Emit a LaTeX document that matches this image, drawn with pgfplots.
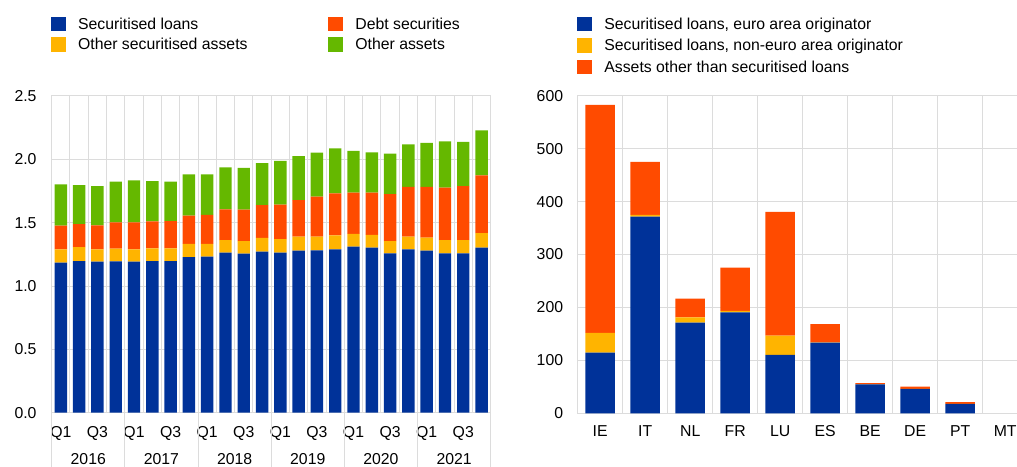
\documentclass[border=0pt]{standalone}
\usepackage{fontspec}
\setmainfont{Liberation Sans}
\usepackage{pgfplots}
\usepackage{pgfplotstable}
\pgfplotsset{compat=1.18}
\definecolor{ecbblue}{HTML}{003299}
\definecolor{ecbyellow}{HTML}{FFB400}
\definecolor{ecborange}{HTML}{FF4B00}
\definecolor{ecbgreen}{HTML}{65B800}
\definecolor{gridgray}{HTML}{DCDCDC}
\newcommand\fs{\fontsize{15.8}{18}\selectfont}

\pgfplotstableread{
x sl osa ds oa
1 1.184 0.105 0.187 0.327
2 1.197 0.111 0.181 0.308
3 1.192 0.097 0.190 0.310
4 1.195 0.100 0.208 0.321
5 1.192 0.097 0.214 0.331
6 1.197 0.100 0.214 0.318
7 1.197 0.100 0.216 0.311
8 1.229 0.103 0.223 0.327
9 1.232 0.100 0.229 0.321
10 1.263 0.100 0.242 0.332
11 1.255 0.100 0.248 0.329
12 1.272 0.108 0.259 0.332
13 1.263 0.108 0.271 0.345
14 1.279 0.110 0.290 0.347
15 1.282 0.107 0.316 0.348
16 1.289 0.111 0.332 0.355
17 1.311 0.100 0.326 0.329
18 1.303 0.100 0.334 0.318
19 1.258 0.097 0.371 0.319
20 1.289 0.100 0.393 0.336
21 1.279 0.103 0.400 0.347
22 1.258 0.105 0.413 0.366
23 1.258 0.105 0.426 0.348
24 1.303 0.115 0.456 0.355
}\lefttab

\pgfplotstableread{
x el nel oth
0 114.6 37.2 430.7
1 371.5 3.2 100.1
2 171.3 10.1 35.2
3 190.8 2.5 81.9
4 110.2 36.5 233.7
5 133.5 0.5 34.6
6 54.8 0.3 1.9
7 46.0 0.2 4.4
8 17.6 0.2 3.2
9 0.0 0.0 0.0
}\righttab

\pgfplotsset{ecbaxis/.style={
  scale only axis,
  clip=false,
  ybar stacked,
  axis line style={draw=gridgray, line width=1pt},
  grid style={draw=gridgray, line width=1pt},
  tick style={draw=gridgray, line width=1pt},
  major tick length=0pt,
  minor tick length=0pt,
  xtick pos=bottom, ytick pos=left,
  ymajorgrids, xminorgrids, xmajorgrids=false,
  ticklabel style={font=\fs},
  /pgf/number format/assume math mode=true,
  xticklabel style={anchor=north, inner sep=0pt, text height=11.3pt, text depth=0pt},
  legend cell align=left,
  legend style={draw=none, fill=none, inner sep=0pt, outer sep=0pt, font=\fs,
    nodes={inner sep=0pt, text height=11.5pt, text depth=3.5pt},
    /tikz/every odd column/.style={column sep=12.7pt}},
}}

\begin{document}
\begin{tikzpicture}
\useasboundingbox (0,0) rectangle (1017pt,466pt);
\clip (0,0) rectangle (1017pt,466pt);

% ---------- left panel ----------
\begin{axis}[ecbaxis,
  at={(51.7pt,53.3pt)}, anchor=south west,
  width=439pt, height=316.7pt,
  xmin=0.5, xmax=24.5, ymin=0, ymax=2.5,
  bar width=12.4pt,
  xtick={1,3,...,23},
  xticklabels={Q1,Q3,Q1,Q3,Q1,Q3,Q1,Q3,Q1,Q3,Q1,Q3},
  xticklabel style={yshift=-13pt},
  minor xtick={0.5,1.5,...,24.5},
  extra x ticks={0.5,4.5,8.5,12.5,16.5,20.5,24.5},
  extra x tick labels={},
  extra x tick style={tick align=outside, major tick length=54pt},
  ytick={0,0.5,...,2.5},
  yticklabel style={inner xsep=0pt, xshift=-15pt, /pgf/number format/.cd, fixed, fixed zerofill, precision=1, /tikz/.cd},
  legend columns=2,
  legend style={at={(axis description cs:-0.0016,1.2504)}, anchor=north west, row sep=4.6pt,
    /tikz/every even column/.style={column sep=80.7pt}},
]
\addlegendimage{legend image code/.code={\fill[ecbblue] (0pt,-5pt) rectangle (14pt,8.3pt);}}
\addlegendentry{Securitised loans}
\addlegendimage{legend image code/.code={\fill[ecborange] (0pt,-5pt) rectangle (14pt,8.3pt);}}
\addlegendentry{Debt securities}
\addlegendimage{legend image code/.code={\fill[ecbyellow] (0pt,-5pt) rectangle (14pt,8.3pt);}}
\addlegendentry{Other securitised assets}
\addlegendimage{legend image code/.code={\fill[ecbgreen] (0pt,-5pt) rectangle (14pt,8.3pt);}}
\addlegendentry{Other assets}

\addplot[fill=ecbblue, draw=none, forget plot] table[x=x, y=sl] {\lefttab};
\addplot[fill=ecbyellow, draw=none, forget plot] table[x=x, y=osa] {\lefttab};
\addplot[fill=ecborange, draw=none, forget plot] table[x=x, y=ds] {\lefttab};
\addplot[fill=ecbgreen, draw=none, forget plot] table[x=x, y=oa] {\lefttab};

\node[font=\fs, anchor=north, inner sep=0pt, text height=11.3pt, text depth=0pt, yshift=-40pt] at (axis cs:2.5,0) {2016};
\node[font=\fs, anchor=north, inner sep=0pt, text height=11.3pt, text depth=0pt, yshift=-40pt] at (axis cs:6.5,0) {2017};
\node[font=\fs, anchor=north, inner sep=0pt, text height=11.3pt, text depth=0pt, yshift=-40pt] at (axis cs:10.5,0) {2018};
\node[font=\fs, anchor=north, inner sep=0pt, text height=11.3pt, text depth=0pt, yshift=-40pt] at (axis cs:14.5,0) {2019};
\node[font=\fs, anchor=north, inner sep=0pt, text height=11.3pt, text depth=0pt, yshift=-40pt] at (axis cs:18.5,0) {2020};
\node[font=\fs, anchor=north, inner sep=0pt, text height=11.3pt, text depth=0pt, yshift=-40pt] at (axis cs:22.5,0) {2021};
\end{axis}

% ---------- right panel ----------
\begin{axis}[ecbaxis,
  at={(577.7pt,52.7pt)}, anchor=south west,
  width=450pt, height=317.6pt,
  xmin=-0.5, xmax=9.5, ymin=0, ymax=600,
  bar width=29.5pt,
  xtick={0,1,...,9},
  xticklabels={IE,IT,NL,FR,LU,ES,BE,DE,PT,MT},
  xticklabel style={yshift=-11.7pt},
  minor xtick={-0.5,0.5,...,9.5},
  ytick={0,100,...,600},
  yticklabel style={inner xsep=0pt, xshift=-14.4pt, /pgf/number format/.cd, fixed, precision=0, /tikz/.cd},
  legend columns=1,
  legend style={at={(axis description cs:-0.0009,1.2488)}, anchor=north west, row sep=5.55pt},
]
\addlegendimage{legend image code/.code={\fill[ecbblue] (0pt,-5pt) rectangle (14pt,8.3pt);}}
\addlegendentry{Securitised loans, euro area originator}
\addlegendimage{legend image code/.code={\fill[ecbyellow] (0pt,-5pt) rectangle (14pt,8.3pt);}}
\addlegendentry{Securitised loans, non-euro area originator}
\addlegendimage{legend image code/.code={\fill[ecborange] (0pt,-5pt) rectangle (14pt,8.3pt);}}
\addlegendentry{Assets other than securitised loans}

\addplot[fill=ecbblue, draw=none, forget plot] table[x=x, y=el] {\righttab};
\addplot[fill=ecbyellow, draw=none, forget plot] table[x=x, y=nel] {\righttab};
\addplot[fill=ecborange, draw=none, forget plot] table[x=x, y=oth] {\righttab};
\end{axis}
\end{tikzpicture}
\end{document}
